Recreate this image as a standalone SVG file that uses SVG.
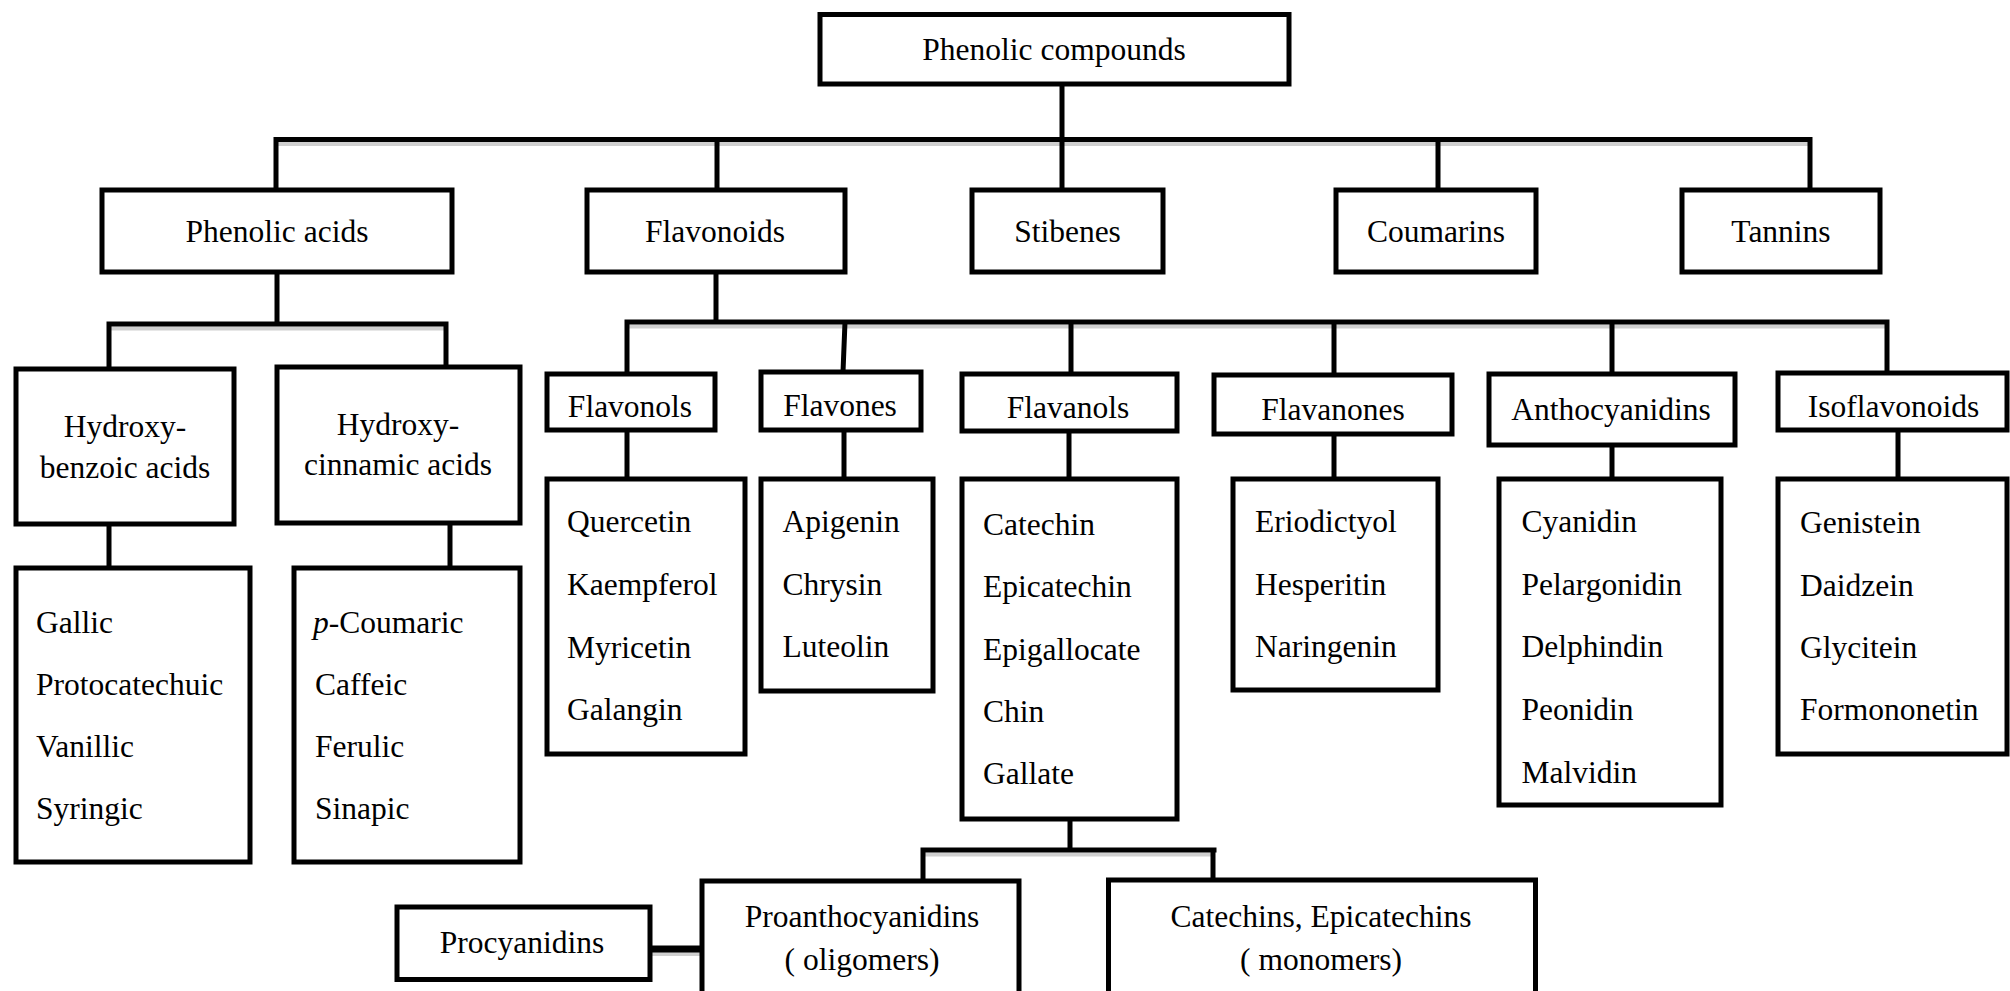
<svg xmlns="http://www.w3.org/2000/svg" width="2010" height="991" viewBox="0 0 2010 991">
<style>
.box{fill:#fff;stroke:#000;stroke-width:5}
.ln{fill:none;stroke:#000;stroke-width:5;stroke-linecap:square}
.sh{fill:none;stroke:#cfcfcf;stroke-width:4}
text{font-family:"Liberation Serif","Times New Roman",serif;font-size:31.5px;fill:#000}
.c{text-anchor:middle}
</style>
<rect width="2010" height="991" fill="#fff"/>
<g id="connectors">
  <path class="sh" d="M276 144 H1810 M109 328.5 H446 M627 326.5 H1887 M923 854.5 H1214 M652 954 H700"/>
  <path class="ln" d="M1062 84 V190 M276 139.5 H1810 M276 139.5 V190 M717 139.5 V190 M1438 139.5 V190 M1810 139.5 V190"/>
  <path class="ln" d="M277 272 V324 M109 324 H446 M109 324 V369 M446 324 V363 M109 524 V568 M450 523 V568"/>
  <path class="ln" d="M716 272 V322 M627 322 H1887 M627 322 V374 M845 322 L843 372 M1071 322 V374 M1334 322 V375 M1612 322 V374 M1887 322 V373"/>
  <path class="ln" d="M627 430 V479 M844 430 V479 M1069 431 V479 M1334 434 V479 M1612 433 V479 M1898 430 V479"/>
  <path class="ln" d="M1070 819 V850 M923 850 H1214 M923 850 V881 M1213 850 V880"/>
  <path fill="none" stroke="#000" stroke-width="7" d="M650 949 H702"/>
</g>
<g id="n-phenolic-compounds"><rect class="box" x="820" y="14.5" width="469" height="69.5"/><text class="c" x="1054" y="60">Phenolic compounds</text></g>
<g id="n-phenolic-acids"><rect class="box" x="102" y="190" width="350" height="82"/><text class="c" x="277" y="241.5">Phenolic acids</text></g>
<g id="n-flavonoids"><rect class="box" x="587" y="190" width="258" height="82"/><text class="c" x="715" y="241.5">Flavonoids</text></g>
<g id="n-stibenes"><rect class="box" x="972" y="190" width="191" height="82"/><text class="c" x="1067.5" y="241.5">Stibenes</text></g>
<g id="n-coumarins"><rect class="box" x="1336" y="190" width="200" height="82"/><text class="c" x="1436" y="241.5">Coumarins</text></g>
<g id="n-tannins"><rect class="box" x="1682" y="190" width="198" height="82"/><text class="c" x="1781" y="241.5">Tannins</text></g>

<g id="n-hydroxybenzoic"><rect class="box" x="16" y="369" width="218" height="155"/><text class="c" x="125" y="436.5">Hydroxy-</text><text class="c" x="125" y="478">benzoic acids</text></g>
<g id="n-hydroxycinnamic"><rect class="box" x="277" y="367" width="243" height="156"/><text class="c" x="398" y="434.5">Hydroxy-</text><text class="c" x="398" y="474.5">cinnamic acids</text></g>
<g id="n-benzoic-list"><rect class="box" x="16" y="568" width="234" height="294"/>
  <text x="36" y="633">Gallic</text><text x="36" y="695">Protocatechuic</text><text x="36" y="757">Vanillic</text><text x="36" y="819">Syringic</text></g>
<g id="n-cinnamic-list"><rect class="box" x="294" y="568" width="226" height="294"/>
  <text x="313" y="633"><tspan font-style="italic">p</tspan>-Coumaric</text><text x="315" y="695">Caffeic</text><text x="315" y="757">Ferulic</text><text x="315" y="819">Sinapic</text></g>

<g id="n-flavonols"><rect class="box" x="547" y="374" width="168" height="56"/><text class="c" x="630" y="416.5">Flavonols</text></g>
<g id="n-flavones"><rect class="box" x="761" y="372" width="160" height="58"/><text class="c" x="840" y="415.5">Flavones</text></g>
<g id="n-flavanols"><rect class="box" x="962" y="374" width="215" height="57"/><text class="c" x="1068" y="417.5">Flavanols</text></g>
<g id="n-flavanones"><rect class="box" x="1214" y="375" width="238" height="59"/><text class="c" x="1333" y="419.5">Flavanones</text></g>
<g id="n-anthocyanidins"><rect class="box" x="1489" y="374" width="246" height="71"/><text class="c" x="1611" y="420">Anthocyanidins</text></g>
<g id="n-isoflavonoids"><rect class="box" x="1778" y="373" width="229" height="57"/><text class="c" x="1893.5" y="416.5">Isoflavonoids</text></g>

<g id="n-flavonols-list"><rect class="box" x="547" y="479" width="198" height="275"/>
  <text x="567" y="531.5">Quercetin</text><text x="567" y="595">Kaempferol</text><text x="567" y="657.5">Myricetin</text><text x="567" y="720">Galangin</text></g>
<g id="n-flavones-list"><rect class="box" x="761" y="479" width="172" height="212"/>
  <text x="782.5" y="531.5">Apigenin</text><text x="782.5" y="595">Chrysin</text><text x="782.5" y="657">Luteolin</text></g>
<g id="n-flavanols-list"><rect class="box" x="962" y="479" width="215" height="340"/>
  <text x="983" y="535">Catechin</text><text x="983" y="597">Epicatechin</text><text x="983" y="660">Epigallocate</text><text x="983" y="722">Chin</text><text x="983" y="784">Gallate</text></g>
<g id="n-flavanones-list"><rect class="box" x="1233" y="479" width="205" height="211"/>
  <text x="1255" y="531.5">Eriodictyol</text><text x="1255" y="595">Hesperitin</text><text x="1255" y="657">Naringenin</text></g>
<g id="n-anthocyanidins-list"><rect class="box" x="1499" y="479" width="222" height="326"/>
  <text x="1521.5" y="531.5">Cyanidin</text><text x="1521.5" y="595">Pelargonidin</text><text x="1521.5" y="657">Delphindin</text><text x="1521.5" y="720">Peonidin</text><text x="1521.5" y="782.5">Malvidin</text></g>
<g id="n-isoflavonoids-list"><rect class="box" x="1778" y="479" width="229" height="275"/>
  <text x="1800" y="532.5">Genistein</text><text x="1800" y="596">Daidzein</text><text x="1800" y="657.5">Glycitein</text><text x="1800" y="719.5">Formononetin</text></g>

<g id="n-proanthocyanidins"><rect class="box" x="702" y="881" width="317" height="130"/><text class="c" x="862" y="926.5">Proanthocyanidins</text><text class="c" x="862" y="970">( oligomers)</text></g>
<g id="n-catechins"><rect class="box" x="1108.5" y="880" width="427" height="130"/><text class="c" x="1321" y="926.5">Catechins, Epicatechins</text><text class="c" x="1321" y="970">( monomers)</text></g>
<g id="n-procyanidins"><rect class="box" x="397" y="907" width="253" height="72.5"/><text class="c" x="522" y="953">Procyanidins</text></g>
</svg>
